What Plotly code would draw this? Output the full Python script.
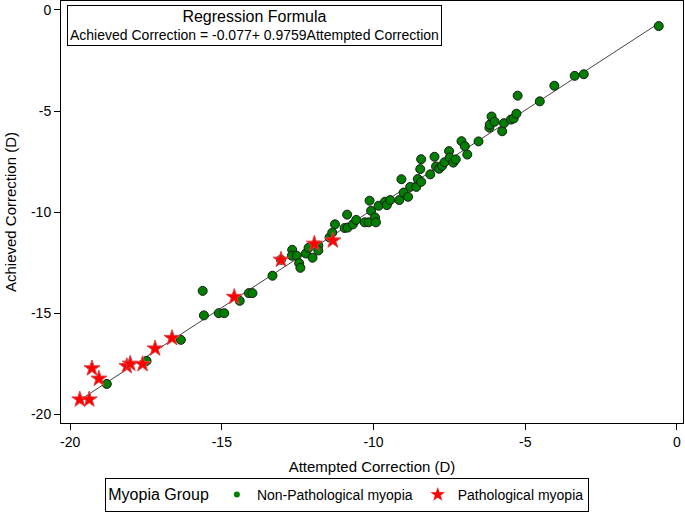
import plotly.graph_objects as go

# Non-pathological myopia (attempted, achieved) in dioptres
non_path_attempted = [
    -18.79, -17.48, -16.35, -15.63, -15.59, -15.10, -14.92, -14.41, -14.11, -13.99,
    -13.33, -13.05, -12.68, -12.69, -12.53, -12.45, -12.41, -12.23, -12.14, -12.01,
    -11.82, -11.82, -11.45, -11.36, -11.27, -10.95, -10.85, -10.87, -10.68, -10.57,
    -10.29, -10.16, -10.13, -10.08, -9.95, -9.92, -9.83, -9.62, -9.56, -9.45,
    -9.15, -9.08, -9.01, -8.86, -8.79, -8.59, -8.54, -8.43, -8.46, -8.43,
    -8.13, -7.99, -7.94, -7.84, -7.74, -7.66, -7.51, -7.49, -7.37, -7.29,
    -7.10, -6.99, -6.91, -6.54, -6.18, -6.17, -6.11, -6.01, -5.76, -5.70,
    -5.47, -5.38, -5.29, -5.25, -4.52, -4.04, -3.37, -3.07, -0.60,
]
non_path_achieved = [
    -18.49, -17.35, -16.31, -13.89, -15.10, -14.99, -14.99, -14.38, -14.00, -14.00,
    -13.14, -12.35, -11.86, -12.15, -12.15, -12.52, -12.75, -12.04, -11.76, -12.25,
    -11.65, -11.89, -11.25, -11.01, -10.60, -10.78, -10.76, -10.12, -10.60, -10.38,
    -10.50, -10.50, -9.43, -9.93, -10.26, -10.50, -9.68, -9.48, -9.65, -9.40,
    -9.40, -8.37, -9.03, -9.24, -8.75, -8.75, -8.36, -8.50, -7.87, -7.38,
    -8.13, -7.26, -7.74, -7.85, -7.71, -7.53, -6.98, -7.30, -7.55, -7.39,
    -6.49, -6.74, -7.15, -6.50, -5.82, -5.67, -5.27, -5.53, -6.00, -5.60,
    -5.42, -5.37, -5.13, -4.24, -4.52, -3.75, -3.26, -3.18, -0.80,
]

# Pathological myopia
path_attempted = [-19.68, -19.37, -19.28, -19.05, -18.13, -18.02, -17.61, -17.20,
                  -16.64, -14.59, -13.05, -11.95, -11.34]
path_achieved = [-19.26, -19.26, -17.72, -18.23, -17.61, -17.49, -17.51, -16.74,
                 -16.22, -14.19, -12.35, -11.56, -11.40]

tick_vals = [-20, -15, -10, -5, 0]
tick_text = ["-20", "-15", "-10", "-5", "0"]

intercept = -0.077
slope = 0.9759

FONT = "Arial, Liberation Sans, sans-serif"
GREEN = "#007F00"
RED = "#FF0000"

all_x = non_path_attempted + path_attempted
line_x = [min(all_x), max(all_x)]
line_y = [intercept + slope * v for v in line_x]

fig = go.Figure()

fig.add_trace(go.Scatter(
    x=line_x, y=line_y, mode="lines",
    line=dict(color="#444444", width=1),
    showlegend=False, hoverinfo="skip",
))

fig.add_trace(go.Scatter(
    x=non_path_attempted, y=non_path_achieved, mode="markers",
    name="Non-Pathological myopia", showlegend=False,
    marker=dict(symbol="circle", size=9, color=GREEN,
                line=dict(color="#1a1a1a", width=1)),
))

fig.add_trace(go.Scatter(
    x=path_attempted, y=path_achieved, mode="markers",
    name="Pathological myopia", showlegend=False,
    marker=dict(symbol="star", size=12, color=RED,
                line=dict(color="#E04040", width=1)),
))

# legend entries with the small legend symbols of the original
fig.add_trace(go.Scatter(
    x=[None], y=[None], mode="markers", name="Non-Pathological myopia",
    marker=dict(symbol="circle", size=6, color=GREEN),
))
fig.add_trace(go.Scatter(
    x=[None], y=[None], mode="markers", name="Pathological myopia",
    marker=dict(symbol="star", size=11, color=RED),
))

fig.add_annotation(
    xref="paper", yref="paper", x=0.009, y=0.99,
    xanchor="left", yanchor="top", showarrow=False, align="center",
    text="<span style='font-size:16px'>Regression Formula</span><br>"
         "Achieved Correction = -0.077+ 0.9759Attempted Correction",
    font=dict(family=FONT, size=14, color="black"),
    bordercolor="black", borderwidth=1, borderpad=2, bgcolor="white",
)

axis_style = dict(
    showline=True, linecolor="black", linewidth=1, mirror=True,
    ticks="outside", ticklen=6, tickcolor="black",
    showgrid=False, zeroline=False, automargin=False,
    ticklabeloverflow="allow",
    tickvals=tick_vals, ticktext=tick_text,
    tickfont=dict(family=FONT, size=14, color="black"),
)

fig.update_xaxes(
    range=[-20.30, 0.2],
    title=dict(text="Attempted Correction (D)", font=dict(family=FONT, size=15, color="black"),
               standoff=12),
    **axis_style,
)
fig.update_yaxes(
    range=[-20.42, 0.44],
    title=dict(text="Achieved Correction (D)", font=dict(family=FONT, size=15, color="black"),
               standoff=10),
    **axis_style,
)

fig.update_layout(
    width=685, height=512,
    paper_bgcolor="white", plot_bgcolor="white",
    margin=dict(l=61, r=2, t=1, b=89),
    font=dict(family=FONT, color="black"),
    legend=dict(
        orientation="h",
        xref="container", yref="container",
        x=0.507, y=0.0, xanchor="center", yanchor="bottom",
        title=dict(text="Myopia Group", font=dict(family=FONT, size=16, color="black")),
        font=dict(family=FONT, size=14, color="black"),
        bordercolor="black", borderwidth=1, bgcolor="white",
        itemwidth=30, tracegroupgap=0,
    ),
)

fig.write_html("out.html", config={"displayModeBar": False},
               post_script="document.body.style.margin = '0px';")
